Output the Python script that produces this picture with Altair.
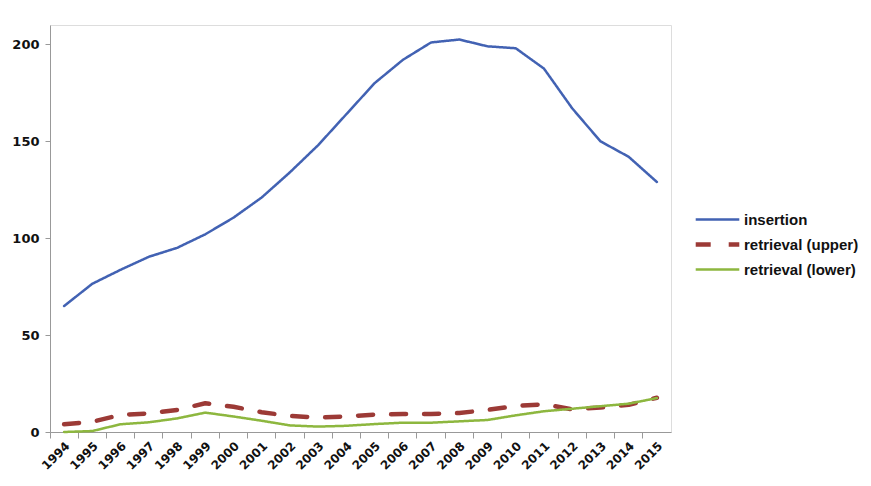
import altair as alt
import pandas as pd

years = [str(y) for y in range(1994, 2016)]
insertion = [65, 76.5, 83.7, 90.4, 95, 102, 110.6, 121, 134, 148, 164, 180, 192, 201, 202.5, 199, 198, 187.5, 167, 150, 142, 129]
retrieval_upper = [4, 5.3, 8.8, 9.6, 11.4, 14.8, 13, 10.2, 8.3, 7.4, 8, 9, 9.3, 9.3, 9.8, 11.4, 13.4, 14.3, 11.7, 12.6, 14, 17.7]
retrieval_lower = [0, 0.5, 4, 5, 7, 10, 8, 5.8, 3.4, 2.8, 3.2, 4.1, 4.8, 4.8, 5.5, 6.2, 8.6, 10.7, 12, 13.3, 14.6, 17.5]
series_names = ["insertion", "retrieval (upper)", "retrieval (lower)"]
series_colors = ["#4262b3", "#9c3a36", "#8db73f"]

rows = []
for name, vals in zip(series_names, [insertion, retrieval_upper, retrieval_lower]):
    for y, v in zip(years, vals):
        rows.append({"year": y, "value": v, "series": name})
df = pd.DataFrame(rows)

legend = alt.Legend(
    title=None, orient="none", legendX=643, legendY=182,
    symbolType="stroke", symbolSize=1900, symbolStrokeWidth=3,
    labelFont="Liberation Sans", labelFontWeight="bold", labelFontSize=15,
    labelColor="#111", rowPadding=0, clipHeight=25, labelOffset=2,
)

chart = alt.Chart(df).mark_line(strokeCap="round", strokeJoin="round").encode(
    x=alt.X("year:O", sort=years, bandPosition=0.5,
            scale=alt.Scale(type="band", paddingInner=0, paddingOuter=0),
            axis=alt.Axis(title=None, bandPosition=0, labelAngle=-45, labelAlign="right",
                          labelBaseline="top", labelPadding=2,
                          labelFont="DejaVu Sans", labelFontWeight="bold", labelFontSize=12,
                          labelColor="#111", tickSize=6, tickColor="#999", domainColor="#999",
                          labelOverlap=False)),
    y=alt.Y("value:Q", scale=alt.Scale(domain=[0, 210], nice=False),
            axis=alt.Axis(title=None, values=[0, 50, 100, 150, 200], grid=False,
                          labelFont="DejaVu Sans", labelFontWeight="bold", labelFontSize=13,
                          labelColor="#111", tickSize=5, tickColor="#999", domainColor="#999",
                          labelPadding=6)),
    color=alt.Color("series:N", sort=series_names,
                    scale=alt.Scale(domain=series_names, range=series_colors), legend=legend),
    strokeDash=alt.StrokeDash("series:N", sort=series_names,
                              scale=alt.Scale(domain=series_names, range=[[1, 0], [15, 18], [1, 0]]),
                              legend=legend),
    strokeWidth=alt.StrokeWidth("series:N", sort=series_names,
                                scale=alt.Scale(type="ordinal", domain=series_names, range=[2.5, 4.5, 2.5]),
                                legend=legend),
).properties(width=621, height=407, padding={"left": 11, "top": 25, "right": 5, "bottom": 5}
).configure_view(stroke=None).configure(background="white")

chart.save("out.html", embed_options={"renderer": "svg", "actions": False})
